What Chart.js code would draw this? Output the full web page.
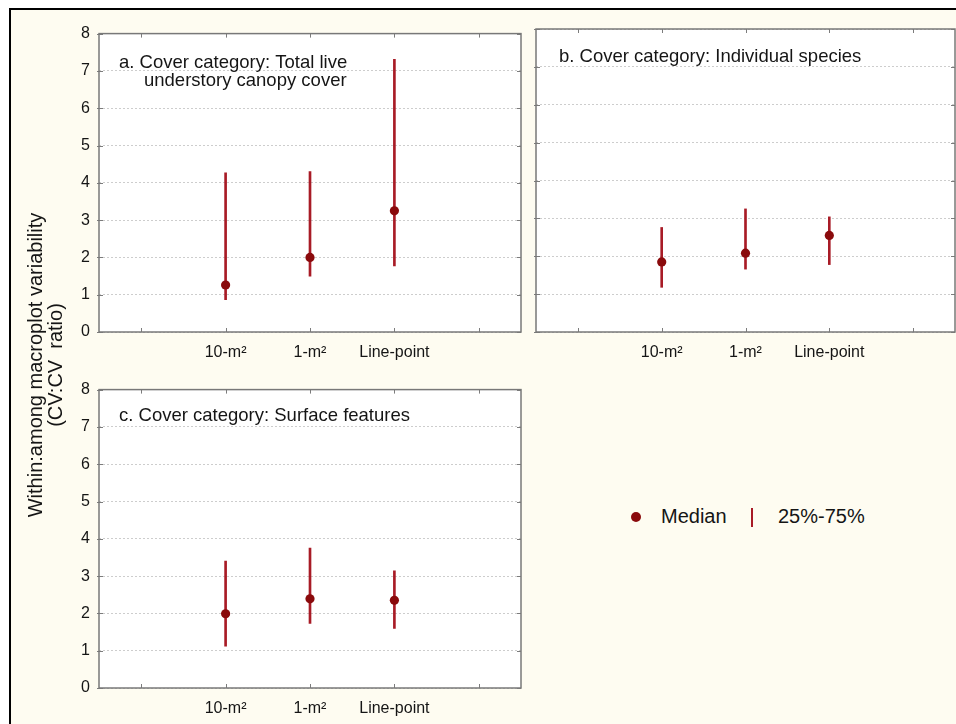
<!DOCTYPE html>
<html>
<head>
<meta charset="utf-8">
<script src="https://cdn.jsdelivr.net/npm/chart.js@4.4.1/dist/chart.umd.min.js"></script>
<style>
  html, body { margin: 0; padding: 0; background: #ffffff; overflow: hidden; }
  body { width: 956px; height: 724px; position: relative; font-family: "Liberation Sans", Arial, sans-serif; color: #151515; }
  #frame { position: absolute; left: 9px; top: 8px; width: 960px; height: 730px;
           border-top: 2px solid #000; border-left: 2px solid #000; background: #fefcf1; }
  canvas { position: absolute; }
  #ytitle { position: absolute; left: 50px; top: 365px; width: 400px; height: 48px;
            transform: translate(-50%, -50%) rotate(-90deg); text-align: center;
            font-size: 20px; line-height: 19.5px; white-space: pre; }
  .leg { position: absolute; font-size: 20px; line-height: 20px; }
</style>
</head>
<body>
<div id="frame"></div>
<canvas id="panelA" width="468" height="353" style="left:59px;top:15px;width:468px;height:353px"></canvas>
<canvas id="panelB" width="430" height="353" style="left:526px;top:15px;width:430px;height:353px"></canvas>
<canvas id="panelC" width="468" height="353" style="left:59px;top:371px;width:468px;height:353px"></canvas>
<div id="ytitle">Within:among macroplot variability
(CV:CV  ratio)</div>
<div id="legend"></div>
<script>
// Sampling methods along the x axis (empty slots pad both ends of each panel)
const categories = ['', '10-m\u00B2', '1-m\u00B2', 'Line-point', ''];
const yMin = 0, yMax = 8, yStep = 1;

// a. Total live understory canopy cover
const medianA = [null, 1.26, 2.00, 3.25, null];
const lowA    = [null, 0.87, 1.50, 1.77, null];
const highA   = [null, 4.27, 4.30, 7.31, null];

// b. Individual species
const medianB = [null, 1.85, 2.08, 2.55, null];
const lowB    = [null, 1.18, 1.66, 1.78, null];
const highB   = [null, 2.76, 3.25, 3.04, null];

// c. Surface features
const medianC = [null, 1.99, 2.39, 2.35, null];
const lowC    = [null, 1.12, 1.73, 1.60, null];
const highC   = [null, 3.40, 3.75, 3.14, null];

const titleA = ['a. Cover category: Total live', 'understory canopy cover'];
const titleB = ['b. Cover category: Individual species'];
const titleC = ['c. Cover category: Surface features'];

const legendLabels = ['Median', '25%-75%'];

const FONT = '"Liberation Sans", Arial, sans-serif';
const MEDIAN_COLOR = '#8a0a0c';
const RANGE_COLOR = '#a81b26';
const TEXT_COLOR = '#151515';

Chart.defaults.font.family = FONT;
Chart.defaults.color = TEXT_COLOR;

// Plot-area background, frame, inward tick marks and the in-panel caption
const panelDecor = {
  id: 'panelDecor',
  beforeDraw(chart) {
    const { ctx, chartArea: a } = chart;
    ctx.save();
    ctx.fillStyle = '#ffffff';
    ctx.fillRect(a.left, a.top, a.right - a.left, a.bottom - a.top);
    ctx.restore();
  },
  afterDraw(chart, args, opts) {
    const { ctx, chartArea: a, scales } = chart;
    const x = scales.x, y = scales.y;
    ctx.save();
    ctx.strokeStyle = '#7c7c7c';
    ctx.lineWidth = 1;
    ctx.beginPath();
    x.ticks.forEach((t, i) => {
      const px = Math.round(x.getPixelForTick(i)) + 0.5;
      ctx.moveTo(px, a.bottom); ctx.lineTo(px, a.bottom - 4);
      ctx.moveTo(px, a.top); ctx.lineTo(px, a.top + 4);
    });
    y.ticks.forEach((t, i) => {
      const py = Math.round(y.getPixelForTick(i)) + 0.5;
      ctx.moveTo(a.left - 2, py); ctx.lineTo(a.left + 4, py);
      ctx.moveTo(a.right, py); ctx.lineTo(a.right - 4, py);
    });
    ctx.stroke();
    ctx.lineWidth = 1.5;
    ctx.strokeStyle = '#787878';
    ctx.strokeRect(a.left, a.top, a.right - a.left, a.bottom - a.top);

    ctx.fillStyle = TEXT_COLOR;
    ctx.font = '18.5px ' + FONT;
    ctx.textBaseline = 'alphabetic';
    ctx.textAlign = 'left';
    (opts.lines || []).forEach((line, i) => {
      const pos = opts.positions[i];
      ctx.fillText(line, a.left + pos[0], a.top + pos[1]);
    });
    ctx.restore();
  }
};

function makePanel(id, median, low, high, title, positions, showYLabels, yWidth, padLeft) {
  const ranges = low.map((l, i) => (l == null ? null : [l, high[i]]));
  return new Chart(document.getElementById(id), {
    data: {
      labels: categories,
      datasets: [
        {
          type: 'bar',
          label: legendLabels[1],
          data: ranges,
          backgroundColor: RANGE_COLOR,
          borderWidth: 0,
          barThickness: 2,
          order: 2
        },
        {
          type: 'line',
          label: legendLabels[0],
          data: median,
          showLine: false,
          pointRadius: 4.6,
          pointHoverRadius: 4.6,
          pointBackgroundColor: MEDIAN_COLOR,
          pointBorderWidth: 0,
          order: 1
        }
      ]
    },
    options: {
      responsive: false,
      devicePixelRatio: 1,
      animation: false,
      events: [],
      layout: { autoPadding: false, padding: { top: 14, right: 1 + (showYLabels ? 5 : 0), left: padLeft, bottom: 0 } },
      plugins: {
        legend: { display: false },
        tooltip: { enabled: false },
        panelDecor: { lines: title, positions: positions }
      },
      scales: {
        x: {
          type: 'category',
          offset: true,
          grid: { display: false, drawTicks: false },
          border: { display: false },
          ticks: { font: { size: 16 }, color: TEXT_COLOR, padding: 11, autoSkip: false, maxRotation: 0 },
          afterFit(scale) { scale.height = 36; }
        },
        y: {
          min: yMin,
          max: yMax,
          grid: { color: '#cdcdcd', lineWidth: 1, drawTicks: false },
          border: { display: false, dash: [2, 2] },
          ticks: { display: showYLabels, stepSize: yStep, font: { size: 16 }, color: TEXT_COLOR, padding: 9 },
          afterFit(scale) { scale.width = yWidth; }
        }
      }
    },
    plugins: [panelDecor]
  });
}

makePanel('panelA', medianA, lowA, highA, titleA, [[20, 34], [45, 52]], true, 40, 0);
makePanel('panelB', medianB, lowB, highB, titleB, [[23, 33]], false, 0, 10);
makePanel('panelC', medianC, lowC, highC, titleC, [[20, 31]], true, 40, 0);

// Legend for the median dot and the interquartile bar
const legend = document.getElementById('legend');
legend.innerHTML =
  '<div style="position:absolute;left:631px;top:512px;width:10px;height:10px;border-radius:50%;background:' + MEDIAN_COLOR + '"></div>' +
  '<div class="leg" style="left:661px;top:506px">' + legendLabels[0] + '</div>' +
  '<div style="position:absolute;left:751px;top:508px;width:2px;height:19px;background:' + RANGE_COLOR + '"></div>' +
  '<div class="leg" style="left:778px;top:506px">' + legendLabels[1] + '</div>';
</script>
</body>
</html>
